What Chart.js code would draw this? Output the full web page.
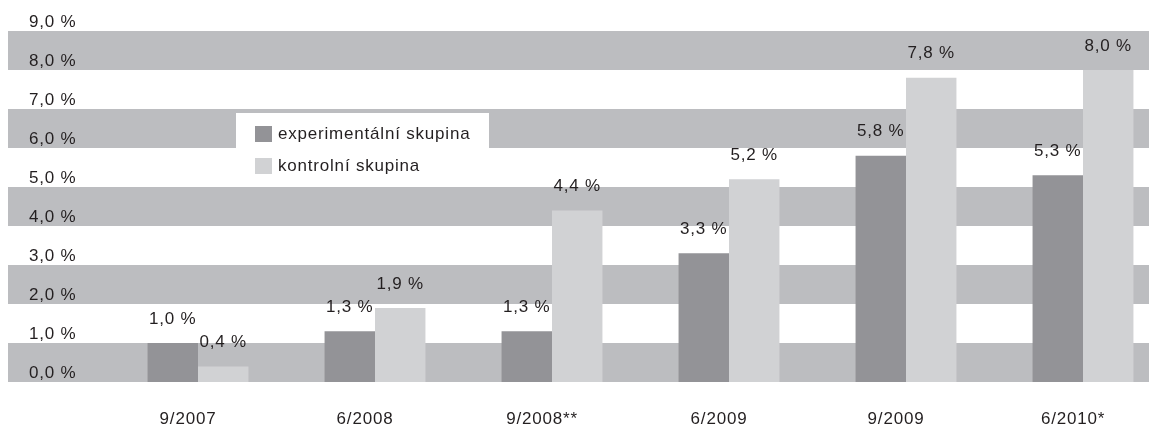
<!DOCTYPE html>
<html>
<head>
<meta charset="utf-8">
<script src="https://cdn.jsdelivr.net/npm/chart.js@4/dist/chart.umd.min.js"></script>
<style>
html,body{margin:0;padding:0;background:#fff;}
#wrap{width:1149px;height:429px;position:relative;}
</style>
</head>
<body>
<div id="wrap"><canvas id="c"></canvas></div>
<script>
const categories = ['9/2007', '6/2008', '9/2008**', '6/2009', '9/2009', '6/2010*'];
const experimental = [1.0, 1.3, 1.3, 3.3, 5.8, 5.3];
const control = [0.4, 1.9, 4.4, 5.2, 7.8, 8.0];
const seriesNames = ['experimentální skupina', 'kontrolní skupina'];
const yTickLabels = ['0,0 %', '1,0 %', '2,0 %', '3,0 %', '4,0 %', '5,0 %', '6,0 %', '7,0 %', '8,0 %', '9,0 %'];
const bandRanges = [[0, 1], [2, 3], [4, 5], [6, 7], [8, 9]];

const FONT = '"Liberation Sans", Arial, sans-serif';
const FSIZE = 17;
const TEXT = '#231f20';
const DARK = '#939397';
const LIGHT = '#d1d2d4';
const BAND = '#bcbdc0';

function fmt(v) { return v.toFixed(1).replace('.', ',') + ' %'; }

const spacingPlugin = {
  id: 'spacing',
  beforeInit(chart) { chart.ctx.letterSpacing = '0.8px'; },
  beforeLayout(chart) { chart.ctx.letterSpacing = '0.8px'; },
  beforeDraw(chart) { chart.ctx.letterSpacing = '0.8px'; }
};

const bandPlugin = {
  id: 'bands',
  beforeDraw(chart) {
    const y = chart.scales.y;
    const ctx = chart.ctx;
    ctx.save();
    ctx.fillStyle = BAND;
    bandRanges.forEach(([a, b]) => {
      const top = y.getPixelForValue(b);
      const bot = y.getPixelForValue(a);
      ctx.fillRect(8, top, chart.width - 8, bot - top);
    });
    ctx.restore();
  }
};

const legendPlugin = {
  id: 'customLegend',
  afterDraw(chart) {
    const ctx = chart.ctx;
    ctx.save();
    ctx.fillStyle = '#ffffff';
    ctx.fillRect(236, 113, 253, 73);
    ctx.font = FSIZE + 'px ' + FONT;
    ctx.textBaseline = 'middle';
    ctx.textAlign = 'left';
    chart.data.datasets.forEach((ds, i) => {
      const cy = 134 + i * 32;
      ctx.fillStyle = ds.backgroundColor;
      ctx.fillRect(255, cy - 8, 17, 16);
      ctx.fillStyle = TEXT;
      ctx.fillText(ds.label, 278, cy);
    });
    ctx.restore();
  }
};

const valueLabelPlugin = {
  id: 'valueLabels',
  afterDatasetsDraw(chart) {
    const ctx = chart.ctx;
    ctx.save();
    ctx.font = FSIZE + 'px ' + FONT;
    ctx.fillStyle = TEXT;
    ctx.textAlign = 'center';
    ctx.textBaseline = 'middle';
    chart.data.datasets.forEach((ds, di) => {
      const meta = chart.getDatasetMeta(di);
      meta.data.forEach((bar, i) => {
        ctx.fillText(fmt(ds.data[i]), bar.x, bar.y - 24);
      });
    });
    ctx.restore();
  }
};

new Chart(document.getElementById('c'), {
  type: 'bar',
  data: {
    labels: categories,
    datasets: [
      { label: seriesNames[0], data: experimental, backgroundColor: DARK, clip: false },
      { label: seriesNames[1], data: control, backgroundColor: LIGHT, clip: false }
    ]
  },
  options: {
    responsive: true,
    maintainAspectRatio: false,
    animation: false,
    devicePixelRatio: 1,
    categoryPercentage: 0.57,
    barPercentage: 1.0,
    layout: { padding: { left: 29, right: 66, top: 31, bottom: 0 } },
    plugins: { legend: { display: false }, tooltip: { enabled: false } },
    scales: {
      x: {
        offset: false,
        grid: { display: false, drawTicks: false },
        border: { display: false },
        ticks: {
          color: TEXT,
          font: { family: FONT, size: FSIZE },
          padding: 27,
          labelOffset: -10,
          maxRotation: 0,
          autoSkip: false
        },
        afterFit(s) { s.height = 47; }
      },
      y: {
        min: 0,
        max: 9,
        grid: { display: false, drawTicks: false },
        border: { display: false },
        ticks: {
          stepSize: 1,
          color: TEXT,
          font: { family: FONT, size: FSIZE },
          crossAlign: 'far',
          labelOffset: -9,
          padding: 0,
          callback: (v) => yTickLabels[Math.round(v)]
        },
        afterFit(s) { s.width = 169; }
      }
    }
  },
  plugins: [spacingPlugin, bandPlugin, valueLabelPlugin, legendPlugin]
});
</script>
</body>
</html>
